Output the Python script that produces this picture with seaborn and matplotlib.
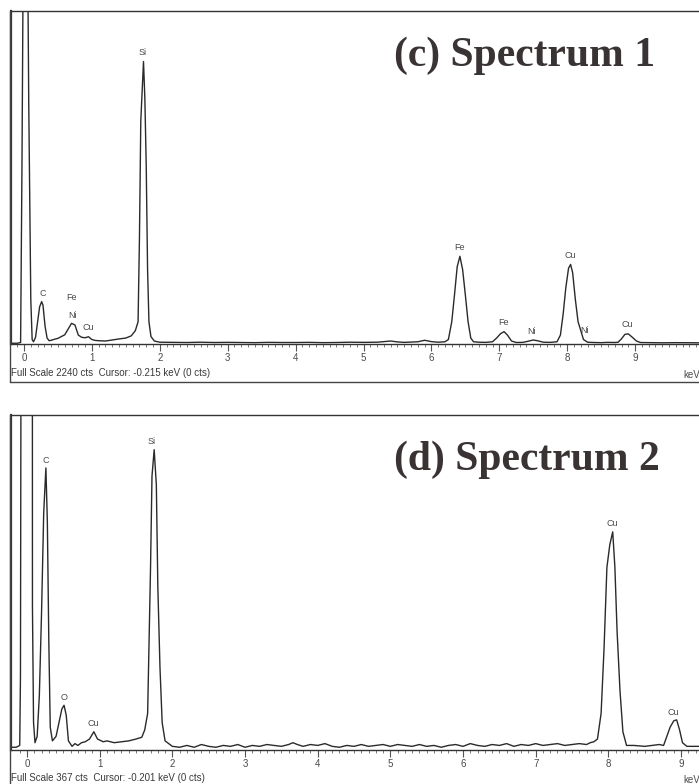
import matplotlib
matplotlib.use("Agg")
import matplotlib.pyplot as plt
from matplotlib.lines import Line2D
import seaborn as sns
import pandas as pd

# ---------------- data: spectrum (c) ----------------
c_energy = [-0.19, -0.10, -0.05, -0.03, 0.00, 0.04, 0.07, 0.10, 0.12, 0.14, 0.17, 0.20, 0.23, 0.26, 0.28,
            0.31, 0.34, 0.37, 0.40, 0.45, 0.50, 0.55, 0.60, 0.65, 0.70, 0.75, 0.80, 0.85, 0.90, 0.95,
            1.00, 1.05, 1.10, 1.20, 1.30, 1.40, 1.50, 1.58, 1.64, 1.68, 1.70, 1.72, 1.74, 1.76, 1.78,
            1.80, 1.82, 1.84, 1.87, 1.92, 2.00, 2.20, 2.40, 2.60, 2.80, 3.00, 3.20, 3.40, 3.60, 3.80,
            4.00, 4.20, 4.40, 4.60, 4.80, 5.00, 5.20, 5.40, 5.50, 5.60, 5.80, 5.90, 6.00, 6.10, 6.20,
            6.25, 6.30, 6.34, 6.38, 6.42, 6.46, 6.50, 6.54, 6.58, 6.62, 6.70, 6.80, 6.90, 6.96, 7.02,
            7.07, 7.12, 7.18, 7.25, 7.35, 7.42, 7.50, 7.56, 7.65, 7.75, 7.85, 7.90, 7.94, 7.98, 8.02,
            8.05, 8.08, 8.12, 8.16, 8.20, 8.24, 8.30, 8.40, 8.50, 8.60, 8.70, 8.75, 8.80, 8.85, 8.90,
            8.96, 9.02, 9.08, 9.20, 9.40, 9.60, 9.80, 9.94]
c_counts = [5, 5, 10, 1190, 3500, 3500, 1615, 300, 30, 15, 45, 150, 250, 285, 260,
            120, 40, 22, 25, 32, 38, 50, 62, 100, 139, 128, 60, 45, 42, 49,
            30, 24, 22, 20, 27, 34, 40, 55, 90, 150, 700, 1500, 1700, 1900, 1650,
            1200, 500, 150, 50, 20, 12, 11, 10, 12, 10, 11, 10, 9, 11, 10,
            10, 11, 9, 10, 12, 11, 12, 20, 14, 11, 15, 25, 16, 12, 15,
            30, 150, 330, 520, 590, 500, 330, 150, 40, 15, 12, 11, 15, 40, 70,
            83, 60, 20, 10, 11, 18, 27, 22, 12, 11, 15, 60, 200, 380, 510,
            535, 480, 300, 150, 90, 30, 12, 10, 9, 11, 10, 12, 35, 65, 68,
            45, 20, 10, 9, 8, 9, 8, 8]

c_label_text = ["Si", "C", "Fe", "Ni", "Cu", "Fe", "Fe", "Ni", "Cu", "Ni", "Cu"]
c_label_energy = [1.75, 0.28, 0.70, 0.71, 0.94, 6.42, 7.06, 7.48, 8.05, 8.25, 8.88]
c_label_counts = [1960, 343, 310, 195, 108, 650, 143, 83, 593, 90, 128]

# ---------------- data: spectrum (d) ----------------
d_energy = [-0.22, -0.15, -0.10, -0.09, -0.06, 0.00, 0.07, 0.075, 0.09, 0.11, 0.14, 0.17, 0.20, 0.23,
            0.26, 0.28, 0.30, 0.32, 0.35, 0.40, 0.44, 0.48, 0.51, 0.54, 0.57, 0.62, 0.66, 0.70, 0.75,
            0.80, 0.86, 0.92, 0.97, 1.05, 1.10, 1.20, 1.30, 1.40, 1.50, 1.58, 1.62, 1.66, 1.68, 1.70,
            1.72, 1.75, 1.78, 1.80, 1.83, 1.86, 1.90, 2.00, 2.10, 2.20, 2.30, 2.40, 2.50, 2.60, 2.70,
            2.80, 2.90, 3.00, 3.10, 3.20, 3.30, 3.40, 3.50, 3.60, 3.66, 3.72, 3.80, 3.90, 4.00, 4.10,
            4.20, 4.30, 4.40, 4.50, 4.60, 4.70, 4.80, 4.90, 5.00, 5.10, 5.20, 5.30, 5.40, 5.50, 5.60,
            5.70, 5.80, 5.90, 6.00, 6.10, 6.20, 6.30, 6.40, 6.50, 6.60, 6.70, 6.80, 6.90, 7.00, 7.10,
            7.20, 7.30, 7.40, 7.50, 7.60, 7.70, 7.75, 7.80, 7.85, 7.90, 7.94, 7.98, 8.02, 8.06, 8.09,
            8.12, 8.16, 8.20, 8.25, 8.35, 8.50, 8.60, 8.70, 8.76, 8.80, 8.85, 8.90, 8.94, 8.98, 9.02,
            9.08, 9.25]
d_counts = [3, 3, 5, 80, 1500, 1500, 1500, 157, 30, 8, 15, 60, 150, 260,
            309, 250, 120, 25, 10, 15, 30, 45, 49, 38, 10, 4, 7, 5, 8,
            9, 12, 20, 12, 9, 10, 8, 9, 10, 12, 14, 22, 40, 120, 200,
            300, 329, 290, 180, 90, 30, 10, 4, 3, 5, 3, 6, 4, 3, 5,
            4, 6, 3, 5, 4, 6, 5, 4, 6, 8, 6, 4, 6, 5, 7,
            4, 3, 5, 4, 6, 4, 5, 6, 4, 6, 5, 4, 6, 4, 5,
            3, 5, 6, 4, 7, 5, 4, 6, 5, 7, 4, 6, 5, 7, 5,
            6, 7, 5, 6, 7, 6, 8, 9, 12, 40, 110, 200, 225, 239, 200,
            130, 65, 20, 5, 5, 4, 5, 6, 5, 14, 25, 32, 33, 22, 8,
            4, 4]

d_label_text = ["Si", "C", "O", "Cu", "Cu", "Cu"]
d_label_energy = [1.72, 0.26, 0.51, 0.91, 8.05, 8.89]
d_label_counts = [338, 317, 58, 29, 248, 41]

panels = [
    dict(energy=c_energy, counts=c_counts, full_scale=2240, cursor="Full Scale 2240 cts  Cursor: -0.215 keV (0 cts)",
         title="(c) Spectrum 1", labels=(c_label_text, c_label_energy, c_label_counts),
         ticks=list(range(0, 10))),
    dict(energy=d_energy, counts=d_counts, full_scale=367, cursor="Full Scale 367 cts  Cursor: -0.201 keV (0 cts)",
         title="(d) Spectrum 2", labels=(d_label_text, d_label_energy, d_label_counts),
         ticks=list(range(0, 10))),
]

# ---------------- layout (pixels) ----------------
W, H = 699, 784
sns.set_style("white")
plt.rcParams["font.family"] = ["Liberation Sans", "DejaVu Sans"]

fig = plt.figure(figsize=(W / 100, H / 100), dpi=100)

def fx(px):
    return px / W

def fy(py):
    return 1 - py / H

geo = [
    dict(top=11, base=344, x0=24, ppk=67.9, tick_y=357, text_y=373, kev_y=375, frame_bottom=382,
         title_x=525, title_y=66),
    dict(top=415, base=750, x0=27, ppk=72.67, tick_y=763, text_y=778, kev_y=780, frame_bottom=790,
         title_x=527, title_y=470),
]

line_col = "#2a2a2a"
text_col = "#4a4a4a"

for p, g in zip(panels, geo):
    ax = fig.add_axes([fx(11), fy(g["base"]), fx(W - 11), (g["base"] - g["top"]) / H])
    df = pd.DataFrame({"energy": p["energy"], "counts": p["counts"]})
    sns.lineplot(data=df, x="energy", y="counts", ax=ax, color=line_col, lw=1.0,
                 estimator=None, sort=False)
    xmin = (11 - g["x0"]) / g["ppk"]
    xmax = (W - g["x0"]) / g["ppk"]
    ax.set_xlabel("")
    ax.set_ylabel("")
    ax.set_yticks([])
    ax.set_xticks(p["ticks"])
    ax.set_xticklabels([str(t) for t in p["ticks"]])
    minor = [t / 10 for t in range(-1, 100) if t % 10 != 0 and xmin <= t / 10 <= xmax]
    ax.set_xticks(minor, minor=True)
    ax.set_xlim(xmin, xmax)
    ax.set_ylim(0, p["full_scale"])
    ax.tick_params(axis="x", which="major", direction="out", length=5, width=0.8,
                   color="#555555", labelsize=7, labelcolor=text_col, pad=1.5, bottom=True)
    ax.tick_params(axis="x", which="minor", direction="out", length=2.5, width=0.6,
                   color="#666666", bottom=True)
    for s in ["left", "top", "bottom"]:
        ax.spines[s].set_visible(True)
        ax.spines[s].set_color("#333333")
        ax.spines[s].set_linewidth(1.0)
    ax.spines["left"].set_linewidth(1.6)
    ax.spines["right"].set_visible(False)
    ax.patch.set_alpha(0)

    names, es, cs = p["labels"]
    for n, e, c in zip(names, es, cs):
        ax.text(e, c, n, ha="center", va="center", fontsize=6.5, color=text_col)

    fig.text(fx(11), fy(g["text_y"]), p["cursor"], ha="left", va="center",
             fontsize=7, color="#3a3a3a")
    fig.text(fx(683), fy(g["kev_y"]), "keV", ha="left", va="center", fontsize=7, color=text_col)
    fig.text(fx(g["title_x"]), fy(g["title_y"]), p["title"], ha="center", va="baseline",
             fontsize=30, fontweight="bold", family=["Liberation Serif", "DejaVu Serif"],
             color="#3a3333")

    # outer panel frame
    fig.add_artist(Line2D([fx(10), fx(10)], [fy(g["top"]), fy(g["frame_bottom"])],
                          color="#444444", lw=1.0))
    fig.add_artist(Line2D([fx(10), 1.0], [fy(g["frame_bottom"]), fy(g["frame_bottom"])],
                          color="#444444", lw=1.0))

fig.savefig("out.png", dpi=100)
